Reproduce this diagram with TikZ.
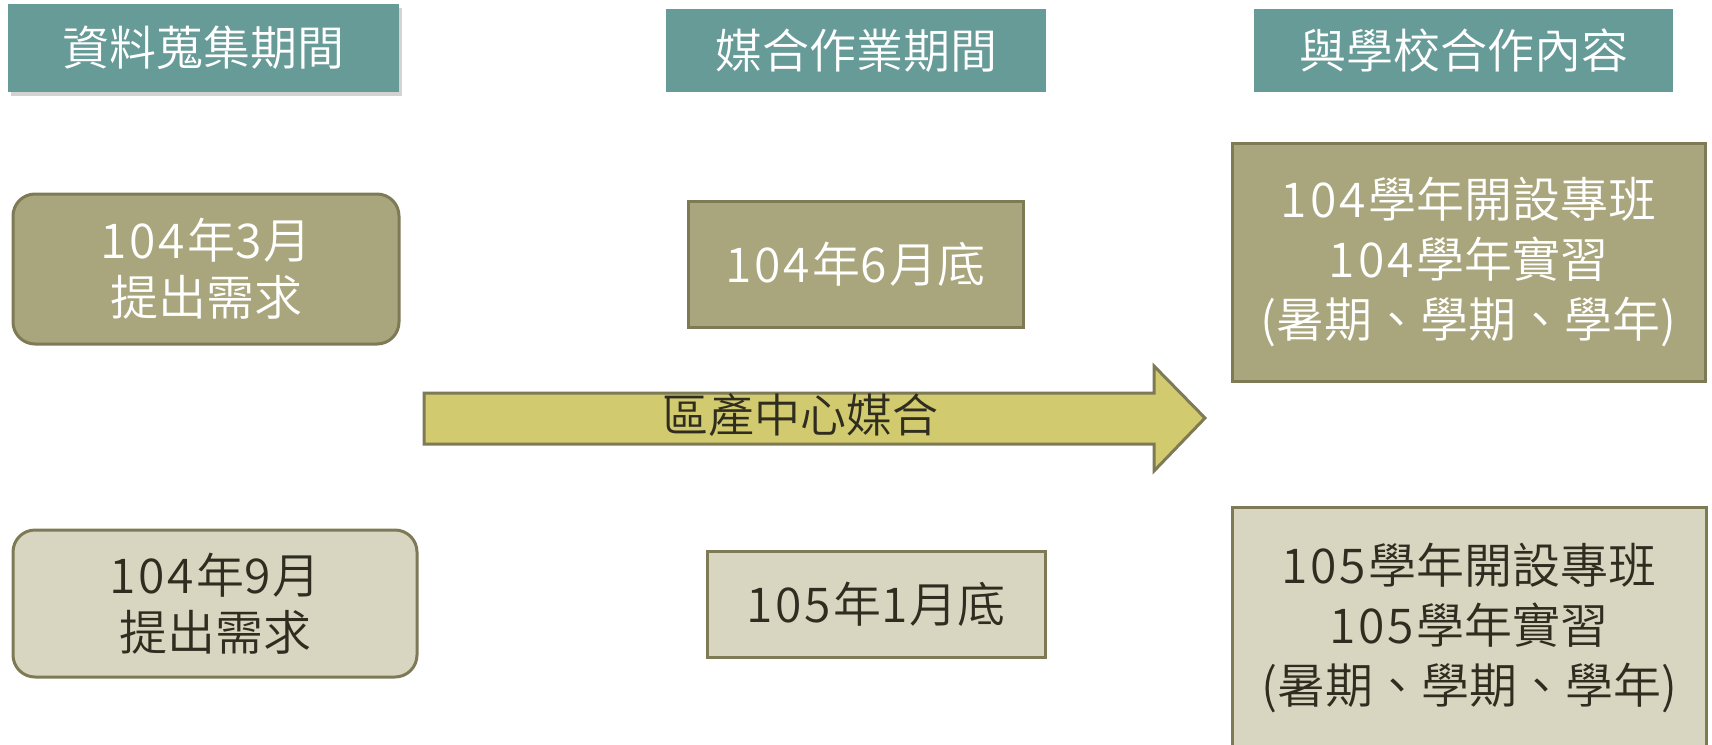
\documentclass[tikz,border=0pt]{standalone}
\usepackage{fontspec}
\IfFontExistsTF{Noto Sans CJK TC DemiLight}{%
  \setmainfont{Noto Sans CJK TC DemiLight}%
  \newfontfamily\digitfont{Noto Sans CJK TC DemiLight}[LetterSpace=6]%
}{%
  \setmainfont{Noto Sans CJK TC}%
  \newfontfamily\digitfont{Noto Sans CJK TC}[LetterSpace=6]%
}
\newcommand\dg[1]{{\digitfont #1}\hspace{0.05em}}
\usetikzlibrary{shadows}
\definecolor{teal}{HTML}{679B98}
\definecolor{olive}{HTML}{A9A57C}
\definecolor{lightolive}{HTML}{D8D6C0}
\definecolor{edge}{HTML}{7E7A56}
\definecolor{arrowfill}{HTML}{D1CA6E}
\definecolor{darktext}{HTML}{2F2C20}
\tikzset{
  header/.style={fill=teal, text=white, font=\fontsize{47}{56}\selectfont, inner sep=0pt, align=center},
  darkbox/.style={fill=olive, draw=edge, line width=3pt, text=white, font=\fontsize{48}{57}\selectfont, inner sep=0pt, align=center},
  lightbox/.style={fill=lightolive, draw=edge, line width=3pt, text=darktext, font=\fontsize{48}{57}\selectfont, inner sep=0pt, align=center},
  rbox/.style={font=\fontsize{48}{60}\selectfont},
}
\begin{document}
\begin{tikzpicture}[x=1pt,y=-1pt]
\useasboundingbox (0,0) rectangle (1712,744);
% headers
\node[header, minimum width=391pt, minimum height=88pt, drop shadow={opacity=0.35, shadow xshift=3pt, shadow yshift=-4pt}] (h1) at (203.5,48) {資料蒐集期間};
\node[header, minimum width=380pt, minimum height=83pt] (h2) at (856,50.5) {媒合作業期間};
\node[header, minimum width=419pt, minimum height=83pt] (h3) at (1463.5,50.5) {與學校合作內容};
% left column
\node[darkbox, rounded corners=22pt, minimum width=386pt, minimum height=150pt] (l1) at (206,269) {\dg{104}年\dg{3}月\\提出需求};
\node[lightbox, rounded corners=22pt, minimum width=404pt, minimum height=147pt] (l2) at (215,603.5) {\dg{104}年\dg{9}月\\提出需求};
% middle column
\node[darkbox, minimum width=335pt, minimum height=126pt] (m1) at (855.5,264) {\dg{104}年\dg{6}月底};
\node[lightbox, minimum width=338pt, minimum height=106pt] (m2) at (876,604) {\dg{105}年\dg{1}月底};
% right column
\node[darkbox, rbox, minimum width=473pt, minimum height=238pt] (r1) at (1468.5,262) {\dg{104}學年開設專班\\\dg{104}學年實習\\(暑期、學期、學年)};
\node[lightbox, rbox, minimum width=474pt, minimum height=242pt] (r2) at (1469,628) {\dg{105}學年開設專班\\\dg{105}學年實習\\(暑期、學期、學年)};
% big arrow
\draw[fill=arrowfill, draw=edge, line width=3pt, line join=miter]
  (424,393) -- (1154,393) -- (1154,366) -- (1205,418) -- (1154,471) -- (1154,444) -- (424,444) -- cycle;
\node[text=darktext, font=\fontsize{46}{52}\selectfont, inner sep=0pt] (arrowlabel) at (800,415) {區產中心媒合};
\end{tikzpicture}
\end{document}
